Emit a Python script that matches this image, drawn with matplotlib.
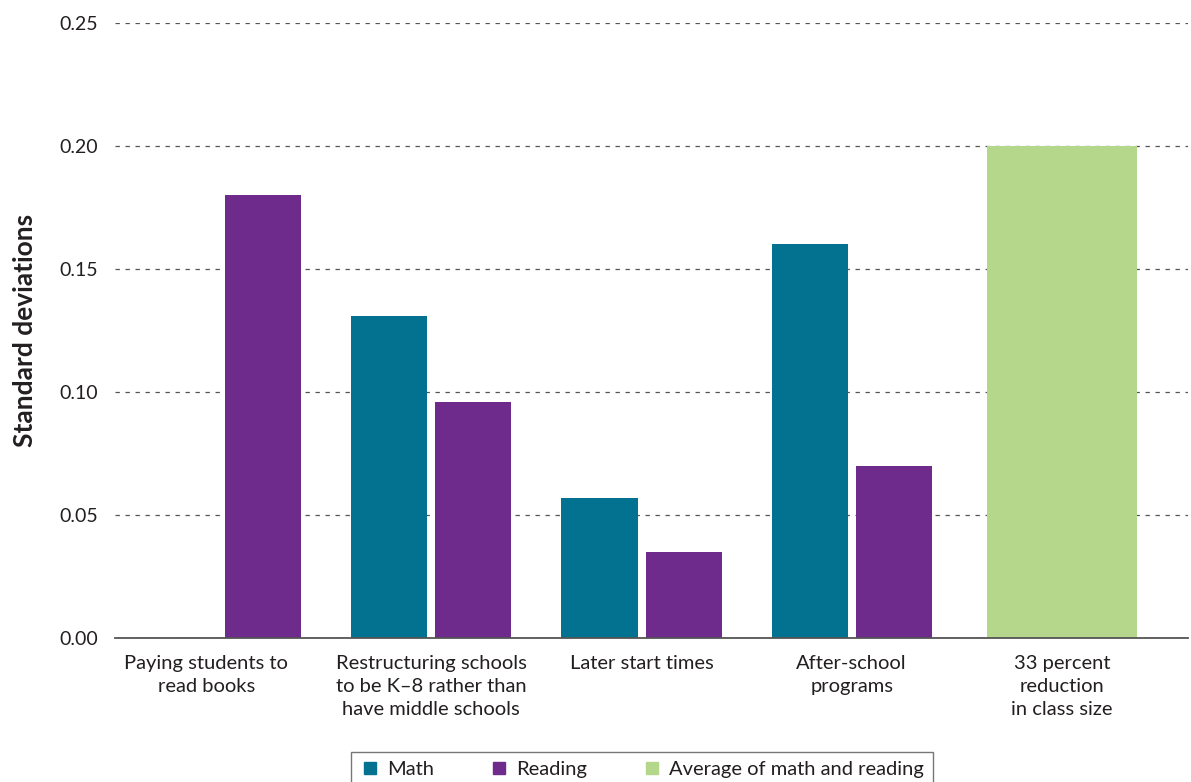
import numpy as np
import matplotlib.pyplot as plt
import matplotlib.transforms as mtransforms
from matplotlib.lines import Line2D

plt.rcParams["font.family"] = ["Lato", "DejaVu Sans"]

# ---------------------------------------------------------------------------
# Données (écart-types)
# ---------------------------------------------------------------------------
categories = [
    "Paying students to\nread books",
    "Restructuring schools\nto be K\u20138 rather than\nhave middle schools",
    "Later start times",
    "After-school\nprograms",
    "33 percent\nreduction\nin class size",
]
math_vals = [np.nan, 0.131, 0.057, 0.160]
reading_vals = [0.180, 0.096, 0.035, 0.070]
average_vals = [0.200]
y_ticks = [0.00, 0.05, 0.10, 0.15, 0.20, 0.25]

C_MATH = "#037290"
C_READ = "#6e2b8c"
C_AVG = "#b5d78c"
C_TEXT = "#231f20"

fig = plt.figure(figsize=(11.91, 7.82), dpi=100)
ax = fig.add_axes([115 / 1191, 1 - 638 / 782, (1188 - 115) / 1191, (638 - 23) / 782])

x = np.arange(len(categories))
bw = 0.362
off = 0.2
ax.bar(x[:4] - off, math_vals, bw, color=C_MATH, zorder=3)
ax.bar(x[:4] + off, reading_vals, bw, color=C_READ, zorder=3)
ax.bar(x[4:], average_vals, 0.71, color=C_AVG, zorder=3)

ax.set_xlim(-0.505, 4.6)
ax.set_ylim(0, 0.25)
ax.set_yticks(y_ticks)
ax.set_yticklabels([f"{v:.2f}" for v in y_ticks])
ax.yaxis.grid(True, linestyle=(0, (3.5, 4.5)), color="#555555", linewidth=0.9)
ax.set_axisbelow(True)

ax.set_xticks(x)
ax.set_xticklabels(categories, fontsize=14.5, color=C_TEXT, linespacing=1.45)
ax.tick_params(axis="x", length=0, pad=12)
ax.tick_params(axis="y", length=0, pad=12, labelsize=14, labelcolor=C_TEXT)

# le premier libellé est légèrement décalé vers la gauche dans l'original
lbl0 = ax.get_xticklabels()[0]
lbl0.set_transform(lbl0.get_transform()
                   + mtransforms.ScaledTranslation(-15 / 100, 0, fig.dpi_scale_trans))

for s in ["top", "right", "left"]:
    ax.spines[s].set_visible(False)
ax.spines["bottom"].set_color("#555555")
ax.spines["bottom"].set_linewidth(1.3)
ax.spines["bottom"].set_zorder(4)

ax.set_ylabel("Standard deviations", fontsize=19, fontweight="bold",
              color=C_TEXT, labelpad=16)

handles = [
    Line2D([], [], marker="s", linestyle="none", color=C_MATH, markersize=8),
    Line2D([], [], marker="s", linestyle="none", color=C_READ, markersize=8),
    Line2D([], [], marker="s", linestyle="none", color=C_AVG, markersize=8),
]
leg = fig.legend(handles, ["Math", "Reading", "Average of math and reading"],
                 loc="upper center", bbox_to_anchor=(642 / 1191, 1 - 752 / 782),
                 ncol=3, fontsize=14.5, frameon=True, fancybox=False,
                 edgecolor="#555555", handletextpad=0.35, columnspacing=2.7,
                 borderpad=0.45, handlelength=1.0, borderaxespad=0)
leg.get_frame().set_linewidth(1.0)
for t in leg.get_texts():
    t.set_color(C_TEXT)

fig.savefig("out.png", dpi=100)
